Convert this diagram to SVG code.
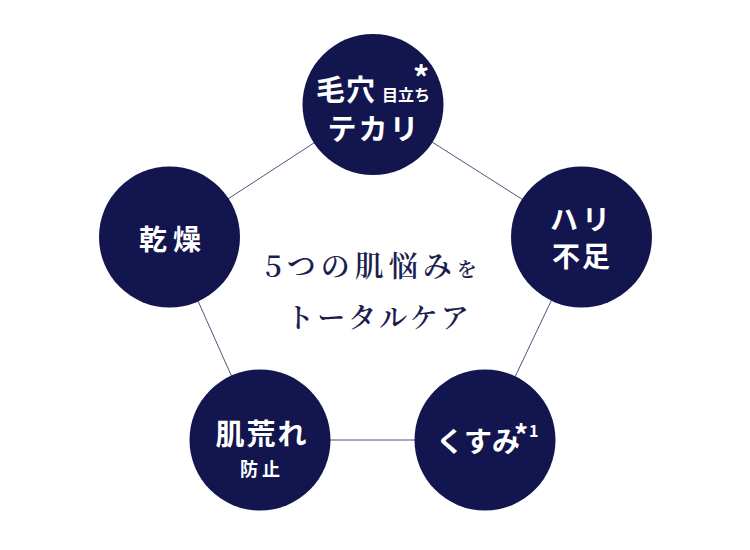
<svg xmlns="http://www.w3.org/2000/svg" width="750" height="550" viewBox="0 0 750 550">
<style>
.c{fill:#13154f}
.w{fill:#ffffff;font-family:"Noto Sans CJK JP","Noto Sans CJK SC",sans-serif;font-weight:700}
.m{fill:#1b1e4f;font-family:"Noto Serif CJK JP","Source Han Serif JP","Noto Sans CJK JP",serif;font-weight:600}
.e{stroke:#50527a;stroke-width:1;fill:none}
</style>
<rect width="750" height="550" fill="#ffffff"/>
<g id="connectors">
<polygon class="e" points="373,104.5 581.5,237 485,440 260,440 169.5,237"/>
</g>
<g id="center-text">
<text class="m" x="265" y="277" font-size="29" letter-spacing="5">5つの肌悩み<tspan font-size="20" letter-spacing="1">を</tspan></text>
<text class="m" x="379" y="328" font-size="28" letter-spacing="3" text-anchor="middle">トータルケア</text>
</g>
<g id="node-pores">
<circle class="c" cx="373" cy="104.5" r="70.5"/>
<text class="w" x="316" y="101" font-size="29" letter-spacing="1">毛穴</text>
<text class="w" x="382" y="101" font-size="16">目立ち</text>
<text class="w" x="421" y="90" font-size="32" font-weight="400" text-anchor="middle">*</text>
<text class="w" x="374" y="140" font-size="29" letter-spacing="2" text-anchor="middle">テカリ</text>
</g>
<g id="node-firmness">
<circle class="c" cx="581.5" cy="237" r="70.5"/>
<text class="w" x="582" y="230" font-size="28" letter-spacing="4" text-anchor="middle">ハリ</text>
<text class="w" x="582" y="267" font-size="28" letter-spacing="2" text-anchor="middle">不足</text>
</g>
<g id="node-dullness">
<circle class="c" cx="485" cy="440" r="70.5"/>
<text class="w" x="436" y="452" font-size="28" letter-spacing="0">くすみ</text>
<text class="w" x="514" y="446" font-size="28" font-weight="400">*</text>
<text class="w" x="529" y="437" font-size="16">1</text>
</g>
<g id="node-rough">
<circle class="c" cx="260" cy="440" r="70.5"/>
<text class="w" x="262" y="445" font-size="29" letter-spacing="2" text-anchor="middle">肌荒れ</text>
<text class="w" x="262" y="476" font-size="18" letter-spacing="4" text-anchor="middle">防止</text>
</g>
<g id="node-dry">
<circle class="c" cx="169.5" cy="237" r="70.5"/>
<text class="w" x="173" y="250" font-size="28" letter-spacing="6" text-anchor="middle">乾燥</text>
</g>
</svg>
